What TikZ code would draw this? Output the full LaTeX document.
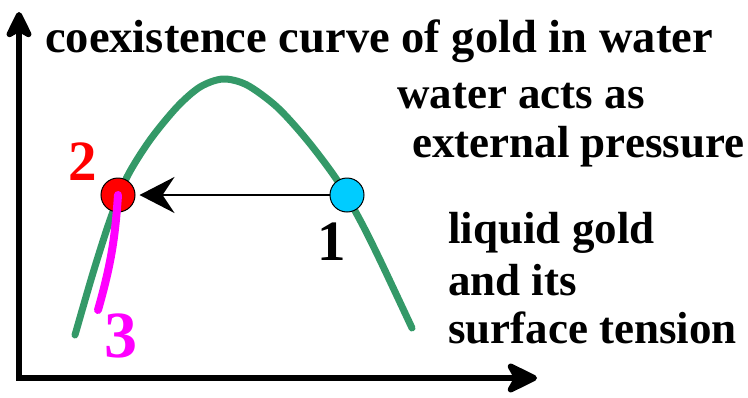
\documentclass[tikz,border=0pt]{standalone}
\usepackage{fontspec}
\setmainfont{Liberation Serif}
\usetikzlibrary{arrows.meta,positioning}
\definecolor{coexgreen}{RGB}{52,153,104}
\definecolor{dropcyan}{RGB}{0,204,255}
\definecolor{pathmag}{RGB}{255,0,255}
\tikzset{
  lbl/.style={inner sep=0pt,anchor=base west,font=\fontsize{45}{50}\selectfont\bfseries},
  digit/.style={inner sep=0pt,anchor=base,font=\fontsize{57}{60}\selectfont\bfseries},
  state/.style={circle,draw,line width=1pt,minimum size=34pt,inner sep=0pt},
  axis/.style={line width=6pt,{Stealth[length=33pt,width=32pt,inset=9pt,round]}-{Stealth[length=37pt,width=36pt,inset=10pt,round]}},
  harrow/.style={line width=2.7pt,-{Stealth[length=35pt,width=36pt,inset=12pt]},shorten >=4pt},
  curve/.style={line width=7pt,coexgreen,line cap=round},
  magline/.style={line width=8pt,pathmag,line cap=round}
}
\begin{document}
\begin{tikzpicture}[x=1pt,y=-1pt]
\useasboundingbox (0,0) rectangle (748,397);
% axes
\coordinate (ytop) at (19,12);
\coordinate (origin) at (19,378);
\coordinate (xend) at (537,378);
\draw[axis] (ytop) -- (origin) -- (xend);
% coexistence curve
\draw[curve] plot[smooth] coordinates {(75,335) (93,273) (110,220) (127,177) (150,140)
  (177,107) (200,87) (223,79) (247,85) (277,107) (307,140) (337,180) (360,220) (380,260) (412,328)};
% states
\node[state,fill=red] (p2) at (118,195) {};
\node[state,fill=dropcyan] (p1) at (347,195) {};
\coordinate (m3) at (98,310);
\draw[magline] (p2.center) to[bend left=6] (m3);
\draw[harrow] (p1) -- (p2);
\node[digit,red] (n2) at (83,180) {2};
\node[digit] (n1) at (332,260) {1};
\node[digit,pathmag,font=\fontsize{66}{70}\selectfont\bfseries] (n3) at (121,357) {3};
% texts
\node[lbl,font=\fontsize{46.5}{50}\selectfont\bfseries] (title) at (45,52) {coexistence curve of gold in water};
\node[lbl] (water) at (397,108) {water acts as};
\node[lbl] (pressure) at (412,157) {external pressure};
\node[lbl] (liquid) at (448,243) {liquid gold};
\node[lbl] (andits) at (448,295) {and its};
\node[lbl] (tension) at (448,343) {surface tension};
\end{tikzpicture}
\end{document}
